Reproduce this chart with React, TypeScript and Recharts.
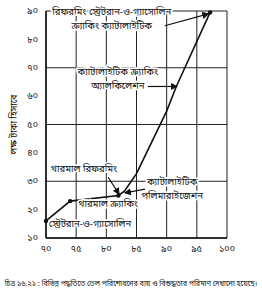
import {
  LineChart,
  Line,
  XAxis,
  YAxis,
  CartesianGrid,
  ReferenceLine,
  ReferenceDot,
} from "recharts";

// বিশুদ্ধতা (x) ও ব্যয় (y)
const purity = [70, 74, 82, 83, 85, 87.5, 90, 91.6, 97.2];
const cost = [16, 23, 25, 26.5, 32.7, 43.7, 54.7, 63.4, 89.5];
const marked = [true, true, true, false, false, false, false, false, true];

const xTicks = [70, 75, 80, 85, 90, 95, 100];
const yTicks = [10, 20, 30, 40, 50, 60, 70, 80, 90];

const yLabel = "লক্ষ টাকা হিসাবে";
const caption =
  "চিত্র ১৬.২১ : বিভিন্ন পদ্ধতিতে তেল পরিশোধনের ব্যয় ও বিশুদ্ধতার পরিমাণ দেখানো হয়েছে।";

// লেবেলগুলো (ডেটা স্থানাঙ্কে)
const notes = [
  { x: 80.9, y: 87.1, lines: ["রিফরমিং স্ট্রেটরান-ও-গ্যাসোলিন", "ক্র্যাকিং ক্যাটালাইটিক"] },
  { x: 81.9, y: 66.0, lines: ["ক্যাটালাইটিক ক্র্যাকিং", "অ্যালকিলেশন"] },
  { x: 76.3, y: 34.0, lines: ["থারমাল রিফরমিং"] },
  { x: 80.3, y: 21.7, lines: ["থারমাল ক্র্যাকিং"] },
  { x: 77.3, y: 14.9, lines: ["স্ট্রেটরান-ও-গ্যাসোলিন"] },
  { x: 90.9, y: 27.2, lines: ["ক্যাটালাইটিক", "পলিমারাইজেশন"] },
];

const arrows = [
  { x1: 89.7, y1: 84.8, x2: 96.9, y2: 89.0 },
  { x1: 86.9, y1: 63.4, x2: 91.7, y2: 63.4 },
  { x1: 80.3, y1: 31.4, x2: 82.1, y2: 25.5 },
  { x1: 86.4, y1: 27.2, x2: 83.1, y2: 25.9 },
];

const data = purity.map((p, i) => ({ purity: p, cost: cost[i], mark: marked[i] }));

const bn = (n: number) =>
  String(n).replace(/[0-9]/g, (d) => "০১২৩৪৫৬৭৮৯"[Number(d)]);

const FONT = "'Noto Sans Bengali', 'Noto Sans', sans-serif";

const Dot = (props: any) => {
  const { cx, cy, payload } = props;
  if (!payload.mark) return null;
  return <circle cx={cx} cy={cy} r={2.2} fill="#111" />;
};

const NoteText = (lines: string[]) => (props: any) => {
  const { cx, cy } = props;
  const lh = 14;
  const top = cy - ((lines.length - 1) * lh) / 2;
  return (
    <g>
      {lines.map((t, i) => (
        <text
          key={i}
          x={cx}
          y={top + i * lh}
          textAnchor="middle"
          dominantBaseline="central"
          fontSize={9.5}
          fill="#111"
          stroke="#fff"
          strokeWidth={3}
          paintOrder="stroke"
          fontFamily={FONT}
        >
          {t}
        </text>
      ))}
    </g>
  );
};

export default function App() {
  return (
    <div style={{ position: "relative", width: 262, height: 300, background: "#fff" }}>
      <style>{`body{margin:0;background:#fff}`}</style>
      <LineChart
        width={262}
        height={300}
        data={data}
        margin={{ top: 11, right: 35, bottom: 42, left: 0 }}
      >
        <defs>
          <marker id="arr" markerWidth="6" markerHeight="6" refX="5" refY="3" orient="auto">
            <path d="M0,0 L6,3 L0,6 z" fill="#111" />
          </marker>
        </defs>
        <CartesianGrid stroke="#222" strokeWidth={1} />
        <XAxis
          dataKey="purity"
          type="number"
          domain={[70, 100]}
          ticks={xTicks}
          tickFormatter={bn}
          tickLine={false}
          axisLine={{ stroke: "#111", strokeWidth: 1.5 }}
          tick={{ fontSize: 9, fill: "#111", fontFamily: FONT }}
          height={20}
        />
        <YAxis
          type="number"
          domain={[10, 90]}
          ticks={yTicks}
          tickFormatter={bn}
          tickLine={false}
          axisLine={{ stroke: "#111", strokeWidth: 1.5 }}
          tick={{ fontSize: 9, fill: "#111", fontFamily: FONT }}
          width={46}
          label={{
            value: yLabel,
            angle: -90,
            position: "insideLeft",
            offset: 14,
            style: { fontSize: 9, fill: "#111", fontFamily: FONT, textAnchor: "middle" },
          }}
        />
        {arrows.map((a, i) => (
          <ReferenceLine
            key={i}
            segment={[
              { x: a.x1, y: a.y1 },
              { x: a.x2, y: a.y2 },
            ]}
            stroke="#111"
            strokeWidth={1.2}
            markerEnd="url(#arr)"
          />
        ))}
        <Line
          dataKey="cost"
          type="linear"
          stroke="#111"
          strokeWidth={1.6}
          dot={<Dot />}
          activeDot={false}
          isAnimationActive={false}
        />
        {notes.map((n, i) => (
          <ReferenceDot key={i} x={n.x} y={n.y} r={0} shape={NoteText(n.lines)} />
        ))}
      </LineChart>
      <div
        style={{
          position: "absolute",
          left: 0,
          top: 279,
          width: 262,
          textAlign: "center",
          fontSize: 7.2,
          fontFamily: FONT,
          color: "#111",
          whiteSpace: "nowrap",
        }}
      >
        {caption}
      </div>
    </div>
  );
}
